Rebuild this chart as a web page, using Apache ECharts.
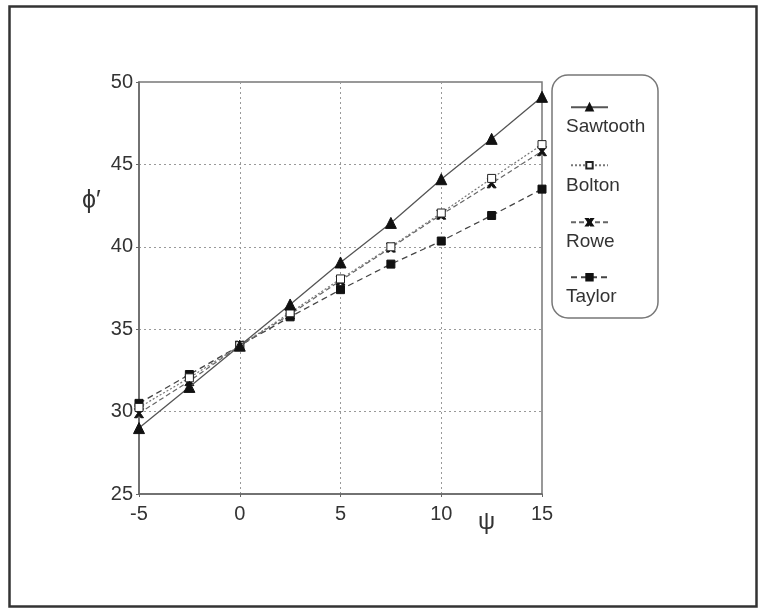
<!DOCTYPE html>
<html>
<head>
<meta charset="utf-8">
<script src="https://cdn.jsdelivr.net/npm/echarts@6/dist/echarts.min.js"></script>
<style>
html,body{margin:0;padding:0;background:#fff;}
#chart{width:764px;height:610px;}
</style>
</head>
<body>
<div id="chart"></div>
<script>
const psi = [-5, -2.5, 0, 2.5, 5, 7.5, 10, 12.5, 15];
const seriesNames = ['Sawtooth', 'Bolton', 'Rowe', 'Taylor'];
const sawtooth = [29.0, 31.5, 34.0, 36.5, 39.05, 41.45, 44.1, 46.55, 49.1];
const bolton   = [30.25, 32.05, 34.0, 36.0, 38.05, 40.0, 42.05, 44.15, 46.2];
const rowe     = [29.9, 31.85, 34.0, 35.9, 37.95, 39.95, 41.95, 43.85, 45.8];
const taylor   = [30.5, 32.25, 34.0, 35.75, 37.4, 38.95, 40.35, 41.9, 43.5];
const xTicks = [-5, 0, 5, 10, 15];
const yTicks = [25, 30, 35, 40, 45, 50];
const xLabel = 'ψ';
const yLabel = 'ϕ′';

const pair = arr => psi.map((x, i) => [x, arr[i]]);
const crossPath = 'path://M0,0 L3,0 L5,3 L7,0 L10,0 L6.5,5 L10,10 L7,10 L5,7 L3,10 L0,10 L3.5,5 Z';

const FONT = 'Liberation Sans, Arial, sans-serif';
const styles = [
  {symbol: 'triangle', symbolSize: 11, color: '#111', border: '#111', line: {type: 'solid', width: 1.3, color: '#555'}},
  {symbol: 'rect', symbolSize: 8, color: '#fff', border: '#222', line: {type: [2, 2], width: 1.2, color: '#777'}},
  {symbol: crossPath, symbolSize: 9, color: '#111', border: '#111', line: {type: [5, 3], width: 1.2, color: '#666'}},
  {symbol: 'rect', symbolSize: 8, color: '#111', border: '#111', line: {type: [6, 4], width: 1.3, color: '#444'}}
];
const dataArrs = [sawtooth, bolton, rowe, taylor];

const legendCenters = [102, 160, 217, 272];
const legendTextY = [128, 187, 243, 298];

const chart = echarts.init(document.getElementById('chart'), null, {renderer: 'canvas'});

const option = {
  backgroundColor: '#fff',
  animation: false,
  grid: {left: 139, right: 222, top: 82, bottom: 116, show: true, borderColor: '#777', borderWidth: 1.5, backgroundColor: 'transparent'},
  xAxis: {
    type: 'value', min: -5, max: 15, interval: 5,
    axisLine: {show: true, onZero: false, lineStyle: {color: '#666', width: 1.5}},
    axisTick: {show: true, length: 3, lineStyle: {color: '#666'}},
    axisLabel: {fontSize: 20, color: '#333', fontFamily: FONT, margin: 10,
      formatter: v => xTicks.includes(v) ? String(v) : ''},
    splitLine: {show: true, lineStyle: {type: [2, 3], color: '#999', width: 1}}
  },
  yAxis: {
    type: 'value', min: 25, max: 50, interval: 5,
    axisLine: {show: true, onZero: false, lineStyle: {color: '#666', width: 1.5}},
    axisTick: {show: true, length: 3, lineStyle: {color: '#666'}},
    axisLabel: {fontSize: 20, color: '#333', fontFamily: FONT, margin: 6,
      formatter: v => yTicks.includes(v) ? String(v) : ''},
    splitLine: {show: true, lineStyle: {type: [2, 3], color: '#999', width: 1}}
  },
  legend: seriesNames.map((n, i) => ({
    data: [n],
    left: 565, top: legendCenters[i] - 4,
    itemWidth: 37, itemHeight: 8,
    formatter: () => '',
    textStyle: {fontSize: 1},
    selectedMode: false
  })),
  series: seriesNames.map((n, i) => ({
    name: n, type: 'line', data: pair(dataArrs[i]),
    symbol: styles[i].symbol, symbolSize: styles[i].symbolSize,
    showAllSymbol: true,
    lineStyle: styles[i].line,
    itemStyle: {color: styles[i].color, borderColor: styles[i].border, borderWidth: 1},
    z: 10 - i
  })),
  graphic: [
    {type: 'rect', shape: {x: 9.5, y: 6.5, width: 747, height: 600}, style: {fill: 'none', stroke: '#333', lineWidth: 2.5}, silent: true},
    {type: 'rect', shape: {x: 552, y: 75, width: 106, height: 243, r: 16}, style: {fill: 'none', stroke: '#777', lineWidth: 1.5}, silent: true},
    ...seriesNames.map((n, i) => ({
      type: 'text', left: 566, top: legendTextY[i] - 11,
      style: {text: n, font: '19px ' + FONT, fill: '#333'}
    })),
    {type: 'text', left: 82, top: 189, style: {text: yLabel, font: '25px ' + FONT, fill: '#333'}},
    {type: 'text', left: 478, top: 510, style: {text: xLabel, font: '24px ' + FONT, fill: '#333'}}
  ]
};
chart.setOption(option);
</script>
</body>
</html>
